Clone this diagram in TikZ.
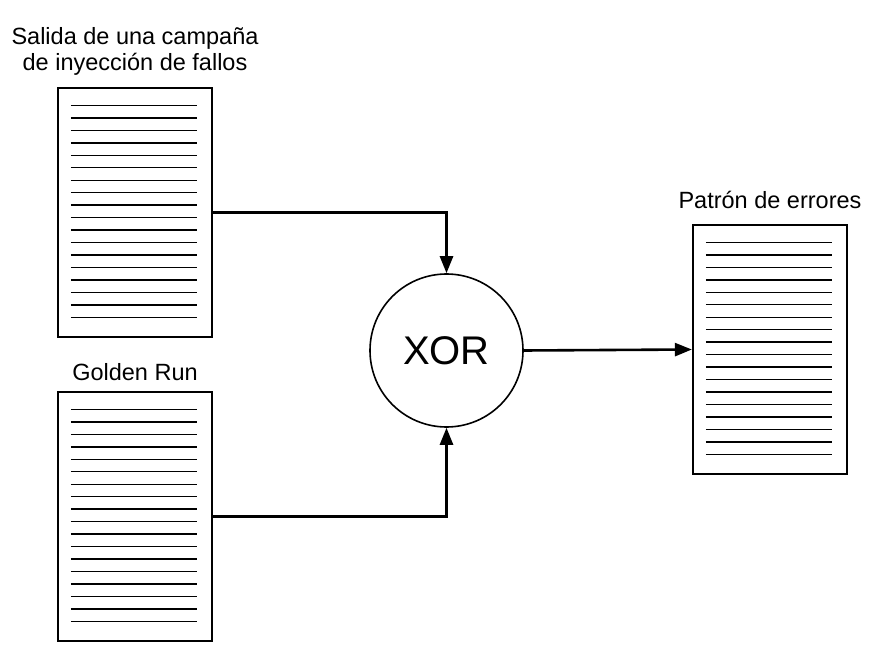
\documentclass[tikz,border=0pt]{standalone}
\usepackage{fontspec}
\setmainfont{Liberation Sans}
\usetikzlibrary{positioning,arrows.meta}

\begin{document}
\begin{tikzpicture}[x=1pt,y=-1pt,
    doc/.style={draw,line width=2.2pt,minimum width=154pt,minimum height=249pt,inner sep=0pt},
    docline/.style={line width=1.4pt},
    caption/.style={inner sep=0pt,align=center,font=\fontsize{23.5}{26}\selectfont},
    flow/.style={line width=2.6pt,-{Triangle[length=17pt,width=13pt]}}]
  \useasboundingbox (0,0) rectangle (887,655);
  \begin{scope}[every node/.style={doc}]
    \node (campaign) at (135,212.5) {};
    \node (golden) at (135,516.5) {};

    \node (pattern) at (770,349.5) {};
  \end{scope}
  \node [circle,draw,line width=1.6pt,minimum size=153pt,font=\fontsize{40}{44}\selectfont] (xor) at (446.5,350.5) {XOR};

  % captions
  \node [caption,above=11pt of campaign] (campaigntext) {Salida de una campaña\\de inyección de fallos};
  \node [caption,above=10pt of golden] (goldentext) {Golden Run};
  \node [caption,above=15pt of pattern] (patterntext) {Patrón de errores};

  % ruled lines of the files
  \foreach \d in {campaign,golden,pattern}
    \foreach \i in {0,...,17}
      \draw [docline] ([xshift=14pt,yshift={-18.5pt-\i*12.47pt}]\d.north west) -- ++(126,0);

  \draw [flow] (campaign.east) -| (xor.north);
  \draw [flow] (golden.east) -| (xor.south);
  \draw [flow] (xor.east) -- (pattern.west);
\end{tikzpicture}
\end{document}
